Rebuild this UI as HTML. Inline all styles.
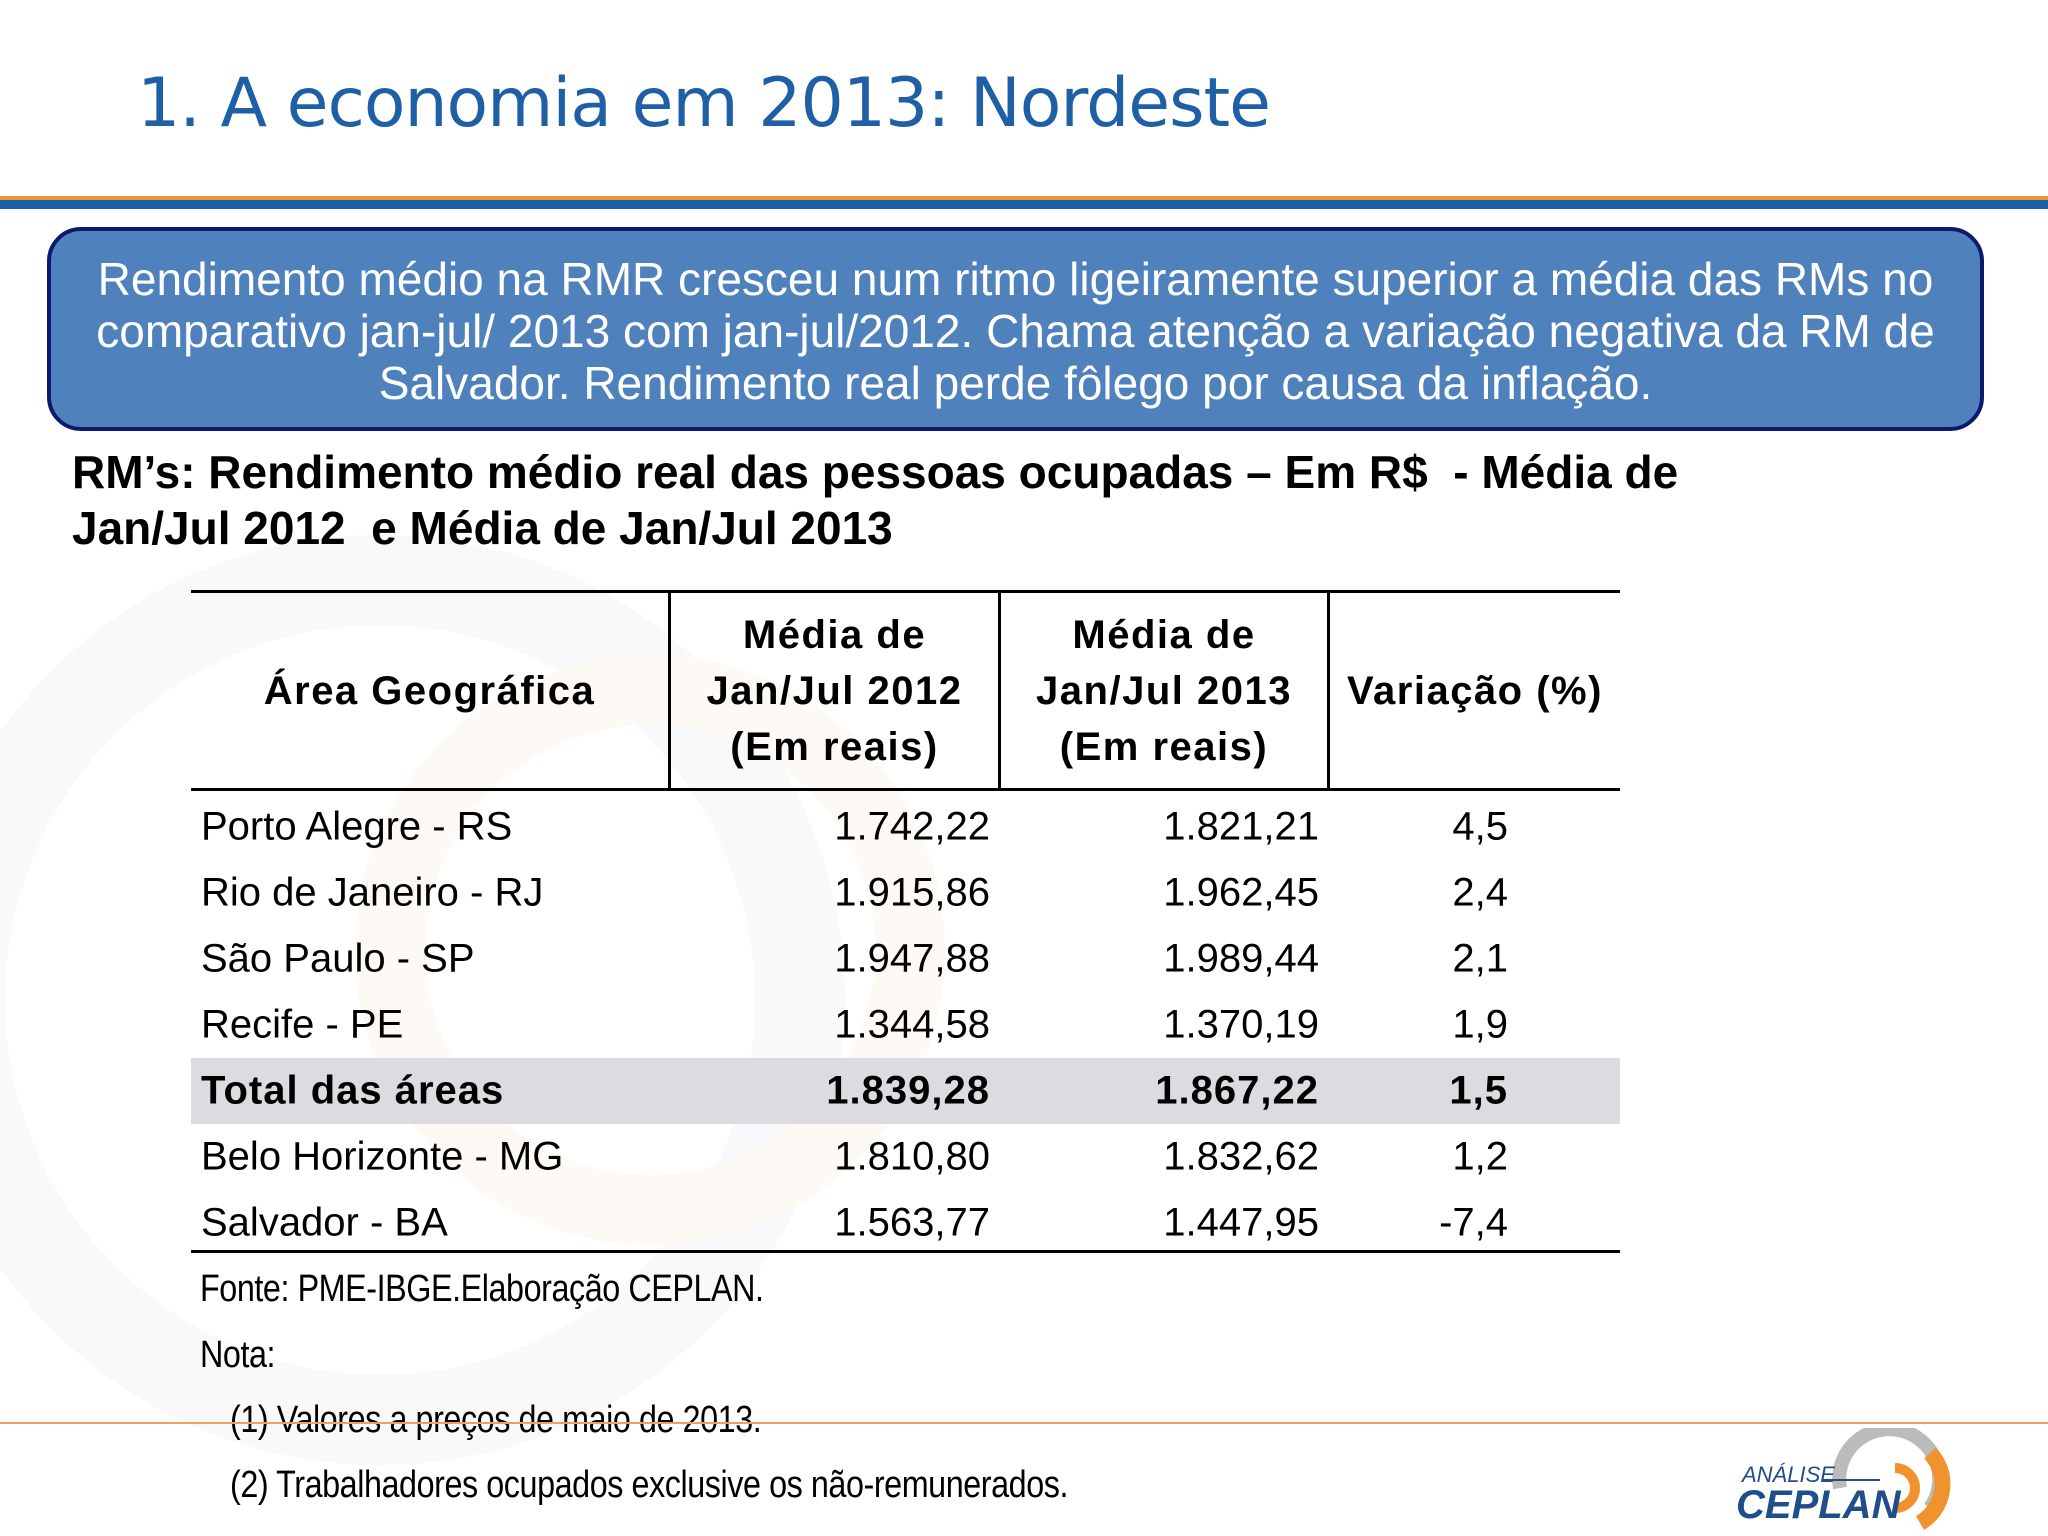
<!DOCTYPE html>
<html><head><meta charset="utf-8"><style>
body{margin:0;width:2048px;height:1536px;position:relative;background:#fff;font-family:"Liberation Sans",sans-serif;overflow:hidden}
.a{position:absolute;white-space:nowrap}
.tr{position:absolute;left:191px;width:1429px;height:66px;font-size:40px;color:#000}
.tr span{position:absolute;top:50%;transform:translateY(-50%)}
.c1{left:10px}.c2{right:630px}.c3{right:301px}.c4{right:112px}
.h{position:absolute;text-align:center;font-weight:bold;font-size:40px;line-height:56px;letter-spacing:1.5px}
.fn{font-size:38px;transform:scaleX(0.85);transform-origin:left center;letter-spacing:-0.5px}
</style></head><body>
<svg class="a" style="left:0;top:0" width="2048" height="1536">
<circle cx="380" cy="1000" r="420" fill="none" stroke="#f8f9fa" stroke-width="90"/>
<circle cx="650" cy="950" r="260" fill="none" stroke="#fdfaf6" stroke-width="70"/>
</svg>
<div class="a" style="left:137px;top:64px;font-family:'DejaVu Sans',sans-serif;font-size:68px;color:#1f5fa6;letter-spacing:-1px">1. A economia em 2013: Nordeste</div>
<div class="a" style="left:0;top:196px;width:2048px;height:4px;background:#f0922e"></div>
<div class="a" style="left:0;top:200px;width:2048px;height:9px;background:#1a5ea8"></div>
<div class="a" style="left:47px;top:227px;width:1937px;height:204px;box-sizing:border-box;background:#4f81bd;border:4px solid #0d1a6b;border-radius:34px;color:#fff;font-size:46px;line-height:52px;text-align:center;padding-top:22px">Rendimento médio na RMR cresceu num ritmo ligeiramente superior a média das RMs no<br>comparativo jan-jul/ 2013 com jan-jul/2012. Chama atenção a variação negativa da RM de<br>Salvador. Rendimento real perde fôlego por causa da inflação.</div>
<div class="a" style="left:72px;top:444px;font-size:46px;font-weight:bold;line-height:56px">RM’s: Rendimento médio real das pessoas ocupadas – Em R$&nbsp; - Média de<br>Jan/Jul 2012&nbsp; e Média de Jan/Jul 2013</div>
<div class="a" style="left:191px;top:590px;width:1429px;height:3px;background:#000"></div>
<div class="a" style="left:191px;top:788px;width:1429px;height:3px;background:#000"></div>
<div class="a" style="left:191px;top:1250px;width:1429px;height:3px;background:#000"></div>
<div class="a" style="left:668px;top:592px;width:3px;height:197px;background:#000"></div>
<div class="a" style="left:998px;top:592px;width:3px;height:197px;background:#000"></div>
<div class="a" style="left:1327px;top:592px;width:3px;height:197px;background:#000"></div>
<div class="h" style="left:191px;width:477px;top:663px">Área Geográfica</div>
<div class="h" style="left:671px;width:327px;top:607px">Média de<br>Jan/Jul 2012<br>(Em reais)</div>
<div class="h" style="left:1001px;width:326px;top:607px">Média de<br>Jan/Jul 2013<br>(Em reais)</div>
<div class="h" style="left:1330px;width:290px;top:663px">Variação (%)</div>
<div id="rows"></div>
<div class="a fn" style="left:200px;top:1268px">Fonte: PME-IBGE.Elaboração CEPLAN.</div>
<div class="a fn" style="left:200px;top:1334px">Nota:</div>
<div class="a fn" style="left:230px;top:1399px">(1) Valores a preços de maio de 2013.</div>
<div class="a" style="left:0;top:1422px;width:2048px;height:2px;background:#f0a060"></div>
<div class="a fn" style="left:230px;top:1464px">(2) Trabalhadores ocupados exclusive os não-remunerados.</div>
<svg class="a" style="left:1730px;top:1428px" width="240" height="108">
<path d="M110 60 A50 50 0 1 1 200 80" fill="none" stroke="#bbb" stroke-width="14"/>
<path d="M200 25 A45 45 0 0 1 190 95" fill="none" stroke="#f0922e" stroke-width="16"/>
<path d="M165 40 A20 20 0 0 1 165 80" fill="none" stroke="#f0922e" stroke-width="10"/>
<text x="12" y="54" font-family="Liberation Sans" font-style="italic" font-size="22" fill="#1f4f8a">ANÁLISE</text>
<line x1="92" y1="52" x2="150" y2="52" stroke="#1f4f8a" stroke-width="2"/>
<text x="6" y="90" font-family="Liberation Sans" font-style="italic" font-weight="bold" font-size="40" fill="#1f4f8a">CEPLAN</text>
</svg>
<script>
const areas=["Porto Alegre - RS","Rio de Janeiro - RJ","São Paulo - SP","Recife - PE","Total das áreas","Belo Horizonte - MG","Salvador - BA"];
const v2012=["1.742,22","1.915,86","1.947,88","1.344,58","1.839,28","1.810,80","1.563,77"];
const v2013=["1.821,21","1.962,45","1.989,44","1.370,19","1.867,22","1.832,62","1.447,95"];
const varPct=["4,5","2,4","2,1","1,9","1,5","1,2","-7,4"];
const box=document.getElementById('rows');
areas.forEach((a,i)=>{
 const r=document.createElement('div');r.className='tr';
 
 
 r.style.top=(794+i*66)+'px';
 if(i===4){r.style.background='#dcdbdf';r.style.fontWeight='bold';r.style.letterSpacing='1px';}
 [[a,'c1'],[v2012[i],'c2'],[v2013[i],'c3'],[varPct[i],'c4']].forEach(([t,c])=>{
  const s=document.createElement('span');s.className=c;s.textContent=t;
  
  
  r.appendChild(s);});
 box.appendChild(r);
});
</script>
</body></html>
